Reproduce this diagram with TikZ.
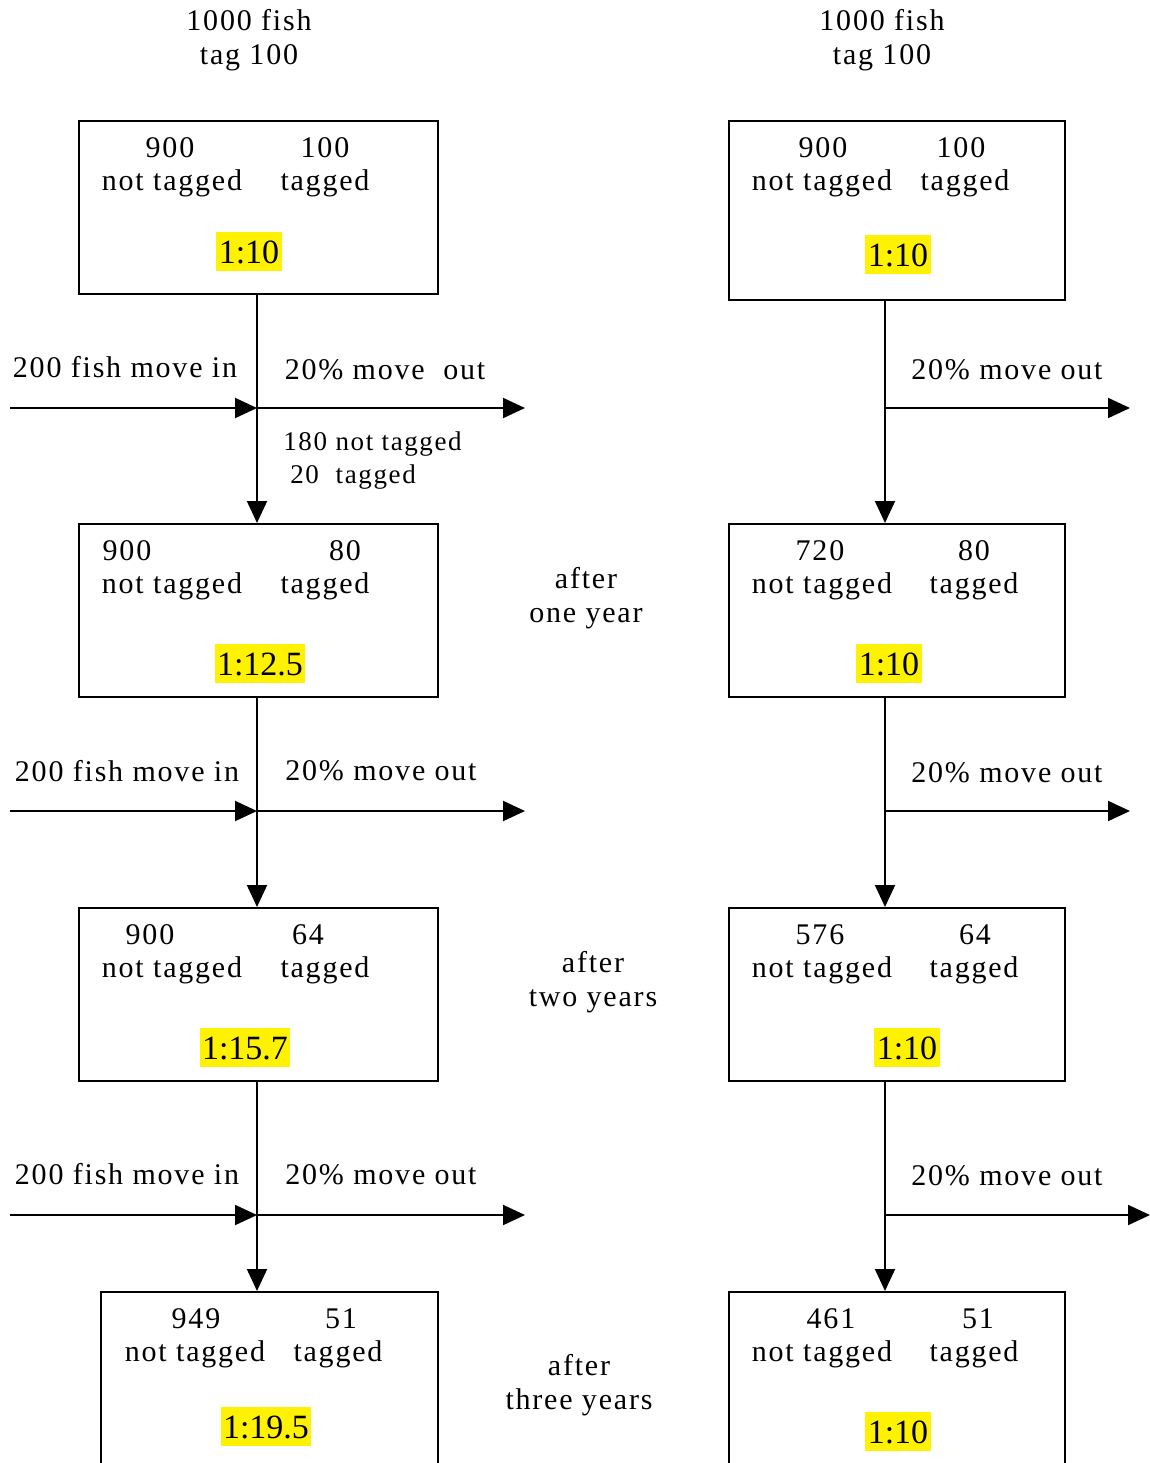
\documentclass[tikz,border=0pt]{standalone}
\usepackage{fontspec}
\setmainfont[LetterSpace=6]{Liberation Serif}
\usetikzlibrary{arrows.meta}
\tikzset{
    box/.style={draw=black, line width=1pt, inner sep=0, anchor=north west},
    txt/.style={anchor=base, inner sep=0},
    small/.style={anchor=base, inner sep=0, font=\fontsize{13.5}{16}\selectfont},
    ratio/.style={anchor=base, fill=yellow, inner xsep=1.2pt, inner ysep=0.5pt,
        text height=15pt, text depth=3.5pt,
        font=\fontsize{17}{20}\selectfont\addfontfeature{LetterSpace=0}},
    flow/.style={line width=1pt, -{Triangle[length=11pt,width=10pt]}}
}

\begin{document}
\begin{tikzpicture}[x=0.5pt, y=-0.5pt, font=\fontsize{15}{17}\selectfont]
    \useasboundingbox (0,0) rectangle (1150,1463);
    \clip (0,0) rectangle (1150,1463);

    % titles (base = last line)
    \node[txt, align=center] (ltitle) at (249,64) {1000 fish\\tag 100};
    \node[txt, align=center] (rtitle) at (882,64) {1000 fish\\tag 100};

    % left column: immigration
    \node[box, minimum width=179.5pt, minimum height=86.5pt] (L1) at (78,120) {};
    \node[box, minimum width=179.5pt, minimum height=86.5pt] (L2) at (78,523) {};
    \node[box, minimum width=179.5pt, minimum height=86.5pt] (L3) at (78,907) {};
    \node[box, minimum width=168.5pt, minimum height=100pt] (L4) at (100,1291) {};

    % right column: no immigration
    \node[box, minimum width=168pt, minimum height=89.5pt] (R1) at (728,120) {};
    \node[box, minimum width=168pt, minimum height=86.5pt] (R2) at (728,523) {};
    \node[box, minimum width=168pt, minimum height=86.5pt] (R3) at (728,907) {};
    \node[box, minimum width=168pt, minimum height=100pt] (R4) at (728,1291) {};

    % box contents
    \node[txt] (l1a) at (170,157) {900};
    \node[txt] (l1b) at (172,190) {not tagged};
    \node[txt] (l1c) at (325,157) {100};
    \node[txt] (l1d) at (325,190) {tagged};
    \node[ratio] (l1r) at (249,263) {1:10};

    \node[txt] (l2a) at (127,560) {900};
    \node[txt] (l2b) at (172,593) {not tagged};
    \node[txt] (l2c) at (345,560) {80};
    \node[txt] (l2d) at (325,593) {tagged};
    \node[ratio] (l2r) at (260,675) {1:12.5};

    \node[txt] (l3a) at (150,944) {900};
    \node[txt] (l3b) at (172,977) {not tagged};
    \node[txt] (l3c) at (308,944) {64};
    \node[txt] (l3d) at (325,977) {tagged};
    \node[ratio] (l3r) at (245,1059) {1:15.7};

    \node[txt] (l4a) at (196,1328) {949};
    \node[txt] (l4b) at (195,1361) {not tagged};
    \node[txt] (l4c) at (341,1328) {51};
    \node[txt] (l4d) at (338,1361) {tagged};
    \node[ratio] (l4r) at (266,1438) {1:19.5};

    \node[txt] (r1a) at (823,157) {900};
    \node[txt] (r1b) at (822,190) {not tagged};
    \node[txt] (r1c) at (961,157) {100};
    \node[txt] (r1d) at (965,190) {tagged};
    \node[ratio] (r1r) at (898,266) {1:10};

    \node[txt] (r2a) at (820,560) {720};
    \node[txt] (r2b) at (822,593) {not tagged};
    \node[txt] (r2c) at (974,560) {80};
    \node[txt] (r2d) at (974,593) {tagged};
    \node[ratio] (r2r) at (889,675) {1:10};

    \node[txt] (r3a) at (820,944) {576};
    \node[txt] (r3b) at (822,977) {not tagged};
    \node[txt] (r3c) at (975,944) {64};
    \node[txt] (r3d) at (974,977) {tagged};
    \node[ratio] (r3r) at (907,1059) {1:10};

    \node[txt] (r4a) at (831,1328) {461};
    \node[txt] (r4b) at (822,1361) {not tagged};
    \node[txt] (r4c) at (978,1328) {51};
    \node[txt] (r4d) at (974,1361) {tagged};
    \node[ratio] (r4r) at (898,1443) {1:10};

    % junctions and free ends
    \coordinate (Lj1) at (257,408);
    \coordinate (Lj2) at (257,811);
    \coordinate (Lj3) at (257,1215);
    \coordinate (Lin1) at (10,408);
    \coordinate (Lin2) at (10,811);
    \coordinate (Lin3) at (10,1215);
    \coordinate (Lout1) at (525,408);
    \coordinate (Lout2) at (525,811);
    \coordinate (Lout3) at (525,1215);
    \coordinate (Rj1) at (885,408);
    \coordinate (Rj2) at (885,811);
    \coordinate (Rj3) at (885,1215);
    \coordinate (Rout1) at (1130,408);
    \coordinate (Rout2) at (1130,811);
    \coordinate (Rout3) at (1150,1215);

    % arrows
    \draw[flow] (Lj1 |- L1.south) -- (Lj1 |- L2.north);
    \draw[flow] (Lj2 |- L2.south) -- (Lj2 |- L3.north);
    \draw[flow] (Lj3 |- L3.south) -- (Lj3 |- L4.north);
    \draw[flow] (Rj1 |- R1.south) -- (Rj1 |- R2.north);
    \draw[flow] (Rj2 |- R2.south) -- (Rj2 |- R3.north);
    \draw[flow] (Rj3 |- R3.south) -- (Rj3 |- R4.north);
    \draw[flow] (Lin1) -- (Lj1);
    \draw[flow] (Lin2) -- (Lj2);
    \draw[flow] (Lin3) -- (Lj3);
    \draw[flow] (Lj1) -- (Lout1);
    \draw[flow] (Lj2) -- (Lout2);
    \draw[flow] (Lj3) -- (Lout3);
    \draw[flow] (Rj1) -- (Rout1);
    \draw[flow] (Rj2) -- (Rout2);
    \draw[flow] (Rj3) -- (Rout3);

    % arrow labels
    \node[txt] (in1) at (125,377) {200 fish move in};
    \node[txt] (in2) at (127,781) {200 fish move in};
    \node[txt] (in3) at (127,1184) {200 fish move in};
    \node[txt] (out1) at (385,379) {20\% move\ \ out};
    \node[txt] (out2) at (381,780) {20\% move out};
    \node[txt] (out3) at (381,1184) {20\% move out};
    \node[txt] (rout1) at (1007,379) {20\% move out};
    \node[txt] (rout2) at (1007,782) {20\% move out};
    \node[txt] (rout3) at (1007,1185) {20\% move out};
    \node[small, anchor=base west] (mix1) at (283,450) {180 not tagged};
    \node[small, anchor=base west] (mix2) at (290,483) {20\ \ tagged};

    % time labels (base = last line)
    \node[txt, align=center] (t1) at (586,622) {after\\one year};
    \node[txt, align=center] (t2) at (593,1006) {after\\two years};
    \node[txt, align=center] (t3) at (579,1409) {after\\three years};
\end{tikzpicture}
\end{document}
